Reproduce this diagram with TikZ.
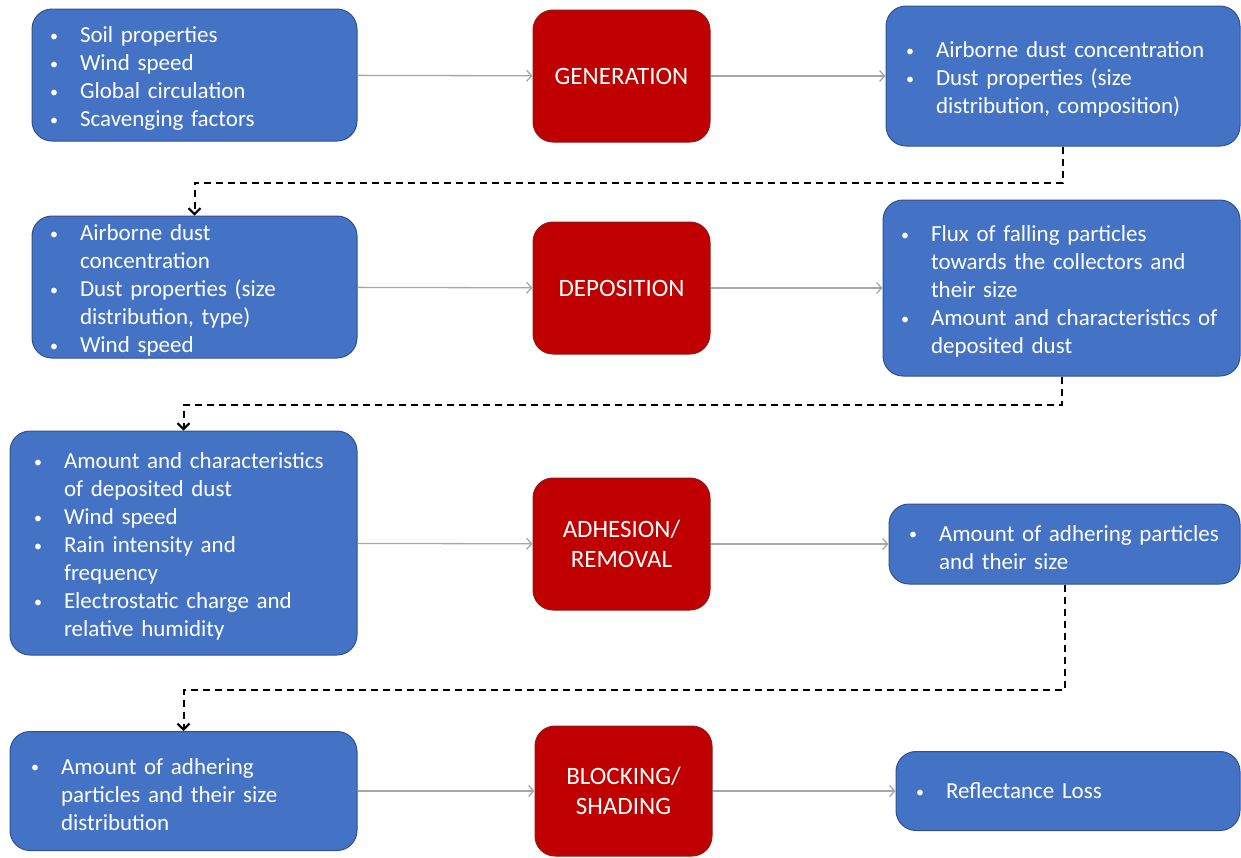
\documentclass[tikz,border=0pt]{standalone}
\usepackage{fontspec}
\setmainfont{Carlito}
\usetikzlibrary{arrows.meta}
\newcommand{\bitem}[1]{\noindent\hyphenpenalty=10000\hangindent=30pt\hangafter=1\makebox[30pt][l]{\fontsize{16}{16}\selectfont\raisebox{1.5pt}{\textbullet}}#1\par}
\begin{document}
\begin{tikzpicture}[x=1pt, y=-1pt,
  bluebox/.style n args={4}{fill=boxblue, draw=boxedge, line width=1pt, rounded corners=20pt, text=white, align=left,
    font=\fontsize{23}{28}\selectfont, minimum width=#1pt, minimum height=#2pt, inner xsep=#3pt, text width=#4pt,
    execute at end node={\kern-7pt}},
  redbox/.style={fill=boxred, draw=rededge, line width=1pt, rounded corners=20pt, text=white, align=center,
    font=\fontsize{25}{30}\selectfont, minimum width=177pt, minimum height=132pt, inner xsep=4pt, text width=169pt},
  flowarrow/.style={draw=linegrey, line width=1.3pt, -{Straight Barb[length=5pt,width=11pt]}},
  backlink/.style={draw=black, line width=2pt, dash pattern=on 7pt off 5pt, -{Straight Barb[length=6pt,width=12pt]}}]
\definecolor{boxblue}{HTML}{4472C4}
\definecolor{boxedge}{HTML}{2F528F}
\definecolor{boxred}{HTML}{C00000}
\definecolor{rededge}{HTML}{8B1A1A}
\definecolor{linegrey}{HTML}{A6A6A6}
\useasboundingbox (0,0) rectangle (1241,857);
\node[bluebox={325}{132}{18}{289}] (in1) at (194.5,75) {\bitem{Soil properties}\bitem{Wind speed}\bitem{Global circulation}\bitem{Scavenging factors}};
\node[redbox] (gen) at (621.5,76) {GENERATION};
\node[bluebox={354}{140}{20}{314}] (out1) at (1063,76) {\bitem{Airborne dust concentration}\bitem{Dust properties (size\newline distribution, composition)}};
\node[bluebox={325}{142}{18}{289}] (in2) at (194.5,287) {\bitem{Airborne dust\newline concentration}\bitem{Dust properties (size\newline distribution, type)}\bitem{Wind speed}};
\node[redbox] (dep) at (621.5,288) {DEPOSITION};
\node[bluebox={357}{176}{18}{321}] (out2) at (1061.5,288) {\bitem{Flux of falling particles\newline towards the collectors and\newline their size}\bitem{Amount and characteristics of\newline deposited dust}};
\node[bluebox={347}{224}{24}{299}] (in3) at (183.5,543) {\bitem{Amount and characteristics\newline of deposited dust}\bitem{Wind speed}\bitem{Rain intensity and\newline frequency}\bitem{Electrostatic charge and\newline relative humidity}};
\node[redbox] (adh) at (621.5,544) {ADHESION/\\REMOVAL};
\node[bluebox={351}{80}{20}{311}] (out3) at (1064.5,544) {\bitem{Amount of adhering particles\newline and their size}};
\node[bluebox={347}{119}{21}{305}] (in4) at (183.5,791) {\bitem{Amount of adhering\newline particles and their size\newline distribution}};
\node[redbox, minimum height=130pt] (blk) at (623.5,791) {BLOCKING/\\SHADING};
\node[bluebox={344}{79}{20}{304}] (out4) at (1068,791) {\bitem{Reflectance Loss}};
\draw[flowarrow] (in1) -- (gen);
\draw[flowarrow] (gen) -- (out1);
\draw[flowarrow] (in2) -- (dep);
\draw[flowarrow] (dep) -- (out2);
\draw[flowarrow] (in3) -- (adh);
\draw[flowarrow] (adh) -- (out3);
\draw[flowarrow] (in4) -- (blk);
\draw[flowarrow] (blk) -- (out4);
\draw[backlink] (out1.south) -- ++(0,36) -| (in2.north);
\draw[backlink] (out2.south) -- ++(0,28) -| (in3.north);
\draw[backlink] (out3.south) -- ++(0,105) -| (in4.north);
\end{tikzpicture}
\end{document}
